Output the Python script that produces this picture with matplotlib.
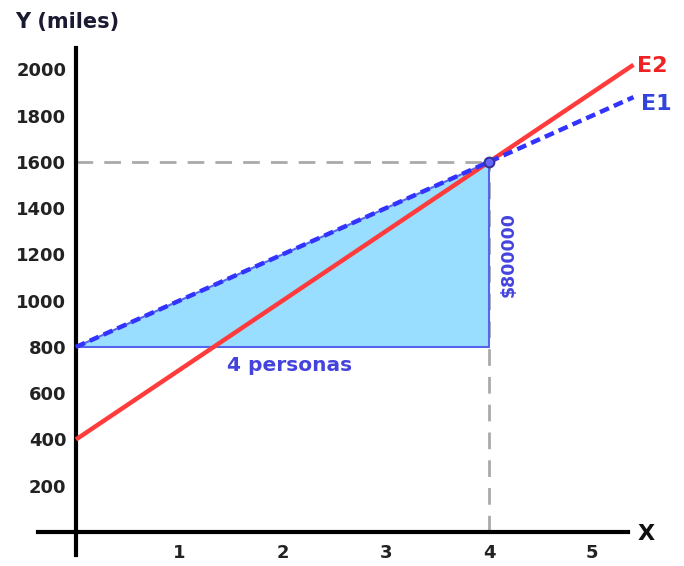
import numpy as np
import matplotlib.pyplot as plt

# data
x_line = [0, 5.4]
e1 = [800, 1880]    # E1: 800 + 200x
e2 = [400, 2020]    # E2: 400 + 300x
point = (4, 1600)
tri_x = [0, 4, 4]
tri_y = [800, 800, 1600]
x_ticks = [1, 2, 3, 4, 5]
y_ticks = [200, 400, 600, 800, 1000, 1200, 1400, 1600, 1800, 2000]

plt.rcParams['font.family'] = ['DejaVu Sans']

fig = plt.figure(figsize=(6.84, 5.66), dpi=100)
ax = fig.add_axes([0, 0, 1, 1])
ax.set_xlim(-0.736, 5.889)
ax.set_ylim(-147, 2300)

# axes lines
for s in ['top', 'right']:
    ax.spines[s].set_visible(False)
ax.spines['left'].set_position(('data', 0))
ax.spines['bottom'].set_position(('data', 0))
ax.spines['left'].set_bounds(-100, 2093)
ax.spines['bottom'].set_bounds(-0.37, 5.35)
for s in ['left', 'bottom']:
    ax.spines[s].set_linewidth(3)
    ax.spines[s].set_color('black')
    ax.spines[s].set_zorder(1)

ax.set_xticks(x_ticks)
ax.set_yticks(y_ticks)
ax.tick_params(length=0, labelsize=13)
ax.tick_params(axis='x', pad=9)
ax.tick_params(axis='y', pad=7)
for lbl in ax.get_xticklabels() + ax.get_yticklabels():
    lbl.set_fontweight('bold')
    lbl.set_color('#222222')

# triangle
ax.fill(tri_x, tri_y, facecolor='#99ddff', edgecolor='#5566ee', lw=1.5, zorder=2)

# guide lines
ax.plot([0, point[0]], [point[1], point[1]], color='#aaaaaa', lw=2, dashes=(6, 4), zorder=1)
ax.plot([point[0], point[0]], [0, point[1]], color='#aaaaaa', lw=2, dashes=(6, 4), zorder=1)

# lines
ax.plot(x_line, e2, color='#ff3b3b', lw=3.2, zorder=3, solid_capstyle='butt')
ax.plot(x_line, e1, color='#3333ff', lw=3.2, dashes=(2.2, 1.2), zorder=4)
ax.plot(*point, 'o', ms=7, mfc='#6666ff', mec='#333399', mew=1.5, zorder=5)

# labels
ax.text(5.43, 2013, 'E2', color='#ee2222', fontsize=16, fontweight='bold', va='center')
ax.text(5.47, 1850, 'E1', color='#3344dd', fontsize=16, fontweight='bold', va='center')
ax.text(2.07, 718, '4 personas', color='#4444dd', fontsize=14.5, fontweight='bold',
        ha='center', va='center')
ax.text(4.19, 1200, '$800000', color='#4444dd', fontsize=12.5, fontweight='bold',
        rotation=90, ha='center', va='center')
ax.text(5.44, -10, 'X', color='#111111', fontsize=16, fontweight='bold', ha='left', va='center')
ax.text(-0.59, 2205, 'Y (miles)', color='#1a1a33', fontsize=15, fontweight='bold',
        ha='left', va='center')

fig.savefig('out.png', dpi=100)
